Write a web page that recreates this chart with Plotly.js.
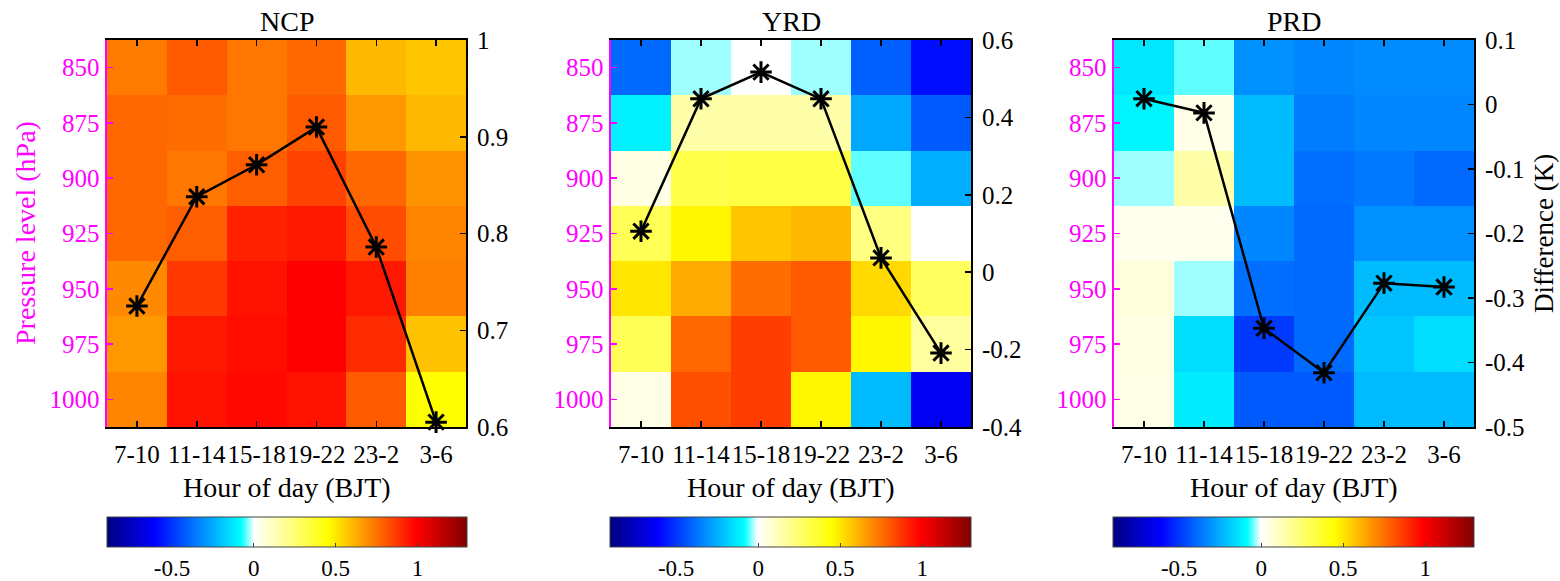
<!DOCTYPE html>
<html>
<head>
<meta charset="utf-8">
<script src="https://cdn.plot.ly/plotly-3.0.1.min.js"></script>
<style>html,body{margin:0;padding:0;background:#fff;}#chart{width:1560px;height:581px;}</style>
</head>
<body>
<div id="chart"></div>
<script>
// ---------------- data ----------------
const hours = ['7-10', '11-14', '15-18', '19-22', '23-2', '3-6'];
const levels = [850, 875, 900, 925, 950, 975, 1000];
const regions = ['NCP', 'YRD', 'PRD'];

// heatmap values (rows = levels top->bottom, columns = hours)
const ncpZ = [
  [0.73, 0.80, 0.74, 0.77, 0.60, 0.57],
  [0.77, 0.76, 0.74, 0.80, 0.67, 0.60],
  [0.77, 0.74, 0.79, 0.85, 0.77, 0.68],
  [0.77, 0.79, 0.92, 0.94, 0.83, 0.71],
  [0.70, 0.87, 0.95, 0.99, 0.94, 0.72],
  [0.67, 0.94, 0.96, 0.99, 0.90, 0.58],
  [0.71, 0.95, 0.97, 0.95, 0.80, 0.45]
];
const yrdZ = [
  [-0.39, -0.03, 0.00, -0.03, -0.41, -0.58],
  [-0.11, 0.15, 0.15, 0.15, -0.26, -0.42],
  [0.05, 0.32, 0.33, 0.33, -0.05, -0.25],
  [0.30, 0.47, 0.57, 0.60, 0.22, 0.00],
  [0.50, 0.63, 0.76, 0.80, 0.53, 0.28],
  [0.30, 0.77, 0.86, 0.80, 0.47, 0.17],
  [0.04, 0.82, 0.86, 0.47, -0.22, -0.64]
];
const prdZ = [
  [-0.13, -0.05, -0.31, -0.33, -0.32, -0.32],
  [-0.10, 0.04, -0.22, -0.35, -0.33, -0.33],
  [-0.03, 0.15, -0.22, -0.38, -0.36, -0.39],
  [0.03, 0.03, -0.33, -0.39, -0.31, -0.31],
  [0.06, -0.03, -0.38, -0.39, -0.22, -0.22],
  [0.05, -0.15, -0.49, -0.39, -0.20, -0.15],
  [0.04, -0.12, -0.42, -0.42, -0.22, -0.22]
];

// line values (difference, K)
const ncpLine = [0.725, 0.838, 0.871, 0.910, 0.786, 0.605];
const yrdLine = [0.106, 0.448, 0.517, 0.448, 0.037, -0.209];
const prdLine = [0.009, -0.013, -0.347, -0.416, -0.277, -0.283];

// right axis ticks
const ncpTicks = [0.6, 0.7, 0.8, 0.9, 1];
const ncpTickText = ['0.6', '0.7', '0.8', '0.9', '1'];
const yrdTicks = [-0.4, -0.2, 0, 0.2, 0.4, 0.6];
const yrdTickText = ['-0.4', '-0.2', '0', '0.2', '0.4', '0.6'];
const prdTicks = [-0.5, -0.4, -0.3, -0.2, -0.1, 0, 0.1];
const prdTickText = ['-0.5', '-0.4', '-0.3', '-0.2', '-0.1', '0', '0.1'];

// colorbar ticks
const cbTicks = [-0.5, 0, 0.5, 1];
const cbTickText = ['-0.5', '0', '0.5', '1'];
const zMin = -0.9, zMax = 1.3;

// ---------------- styling ----------------
const W = 1560, H = 581;
const FONT = 'Liberation Serif';
const MAG = '#ff00ff';
const TICK = 25;
const panelsPx = [[107, 466], [611, 971], [1114, 1474]];
const topPx = 40, botPx = 427;
const yDom = [(H - botPx) / H, (H - topPx) / H];

function nz(v) { return (v - zMin) / (zMax - zMin); }
const colorscale = [
  [0, 'rgb(0,0,128)'],
  [nz(-0.61), 'rgb(0,0,255)'],
  [nz(-0.08), 'rgb(0,255,255)'],
  [nz(-0.025), 'rgb(175,255,255)'],
  [nz(0), 'rgb(255,255,255)'],
  [nz(0.45), 'rgb(255,255,0)'],
  [nz(0.99), 'rgb(255,0,0)'],
  [1, 'rgb(128,0,0)']
];

const zs = [ncpZ, yrdZ, prdZ];
const lines = [ncpLine, yrdLine, prdLine];
const rTicks = [[ncpTicks, ncpTickText, [0.6, 1]], [yrdTicks, yrdTickText, [-0.4, 0.6]], [prdTicks, prdTickText, [-0.5, 0.1]]];

const data = [];
const layout = {
  width: W, height: H,
  margin: {l: 0, r: 0, t: 0, b: 0, pad: 0, autoexpand: false},
  paper_bgcolor: '#fff', plot_bgcolor: '#fff',
  font: {family: FONT, size: TICK, color: '#000'},
  showlegend: false,
  annotations: []
};

for (let i = 0; i < 3; i++) {
  const xn = i === 0 ? 'x' : 'x' + (i + 1);
  const yl = i === 0 ? 'y' : 'y' + (2 * i + 1);
  const yr = 'y' + (2 * i + 2);
  const xDom = [panelsPx[i][0] / W, panelsPx[i][1] / W];
  const xKey = i === 0 ? 'xaxis' : 'xaxis' + (i + 1);
  const ylKey = i === 0 ? 'yaxis' : 'yaxis' + (2 * i + 1);
  const yrKey = 'yaxis' + (2 * i + 2);

  data.push({
    type: 'heatmap', x: hours, y: levels, z: zs[i],
    xaxis: xn, yaxis: yl,
    zmin: zMin, zmax: zMax, colorscale: colorscale,
    hoverinfo: 'skip',
    colorbar: {
      orientation: 'h',
      x: (xDom[0] + xDom[1]) / 2, xanchor: 'center',
      y: (H - 517) / H, yanchor: 'top',
      len: (panelsPx[i][1] - panelsPx[i][0] + 1) / W, lenmode: 'fraction',
      thickness: 30, thicknessmode: 'pixels',
      xpad: 0, ypad: 0,
      outlinewidth: 1, outlinecolor: '#444',
      tickmode: 'array', tickvals: cbTicks, ticktext: cbTickText,
      ticks: 'inside', ticklen: 4, tickcolor: '#444',
      tickfont: {family: FONT, size: 23, color: '#000'}
    }
  });
  data.push({
    type: 'scatter', mode: 'lines+markers', x: hours, y: lines[i],
    xaxis: xn, yaxis: yr,
    line: {color: '#000', width: 2.5},
    marker: {symbol: 'asterisk-open', size: 18, color: '#000', line: {width: 3, color: '#000'}},
    hoverinfo: 'skip', cliponaxis: false
  });

  layout[xKey] = {
    domain: xDom, anchor: yl, type: 'category', range: [-0.5, 5.5],
    showline: true, linecolor: '#000', linewidth: 2, mirror: 'ticks',
    ticks: 'inside', ticklen: 6, tickwidth: 1.5, tickcolor: '#000',
    tickangle: 0, ticklabelstandoff: 4,
    showgrid: false, zeroline: false,
    tickfont: {family: FONT, size: TICK, color: '#000'}
  };
  layout[ylKey] = {
    domain: yDom, anchor: xn, range: [1012.5, 837.5],
    tickmode: 'array', tickvals: levels,
    showline: true, linecolor: MAG, linewidth: 2.5,
    ticks: 'inside', ticklen: 6, tickwidth: 1.5, tickcolor: MAG,
    showgrid: false, zeroline: false,
    tickfont: {family: FONT, size: TICK, color: MAG}
  };
  layout[yrKey] = {
    overlaying: yl, anchor: xn, side: 'right',
    range: rTicks[i][2], tickmode: 'array', tickvals: rTicks[i][0], ticktext: rTicks[i][1],
    showline: true, linecolor: '#000', linewidth: 2,
    ticks: 'inside', ticklen: 6, tickwidth: 1.5, tickcolor: '#000',
    ticklabelstandoff: 4,
    showgrid: false, zeroline: false,
    tickfont: {family: FONT, size: TICK, color: '#000'}
  };

  layout.annotations.push({
    text: regions[i], xref: 'paper', yref: 'paper',
    x: (xDom[0] + xDom[1]) / 2, y: (H - 21) / H, xanchor: 'center', yanchor: 'middle',
    showarrow: false, font: {family: FONT, size: 28, color: '#000'}
  });
  layout.annotations.push({
    text: 'Hour of day (BJT)', xref: 'paper', yref: 'paper',
    x: (xDom[0] + xDom[1]) / 2, y: (H - 487) / H, xanchor: 'center', yanchor: 'middle',
    showarrow: false, font: {family: FONT, size: 28, color: '#000'}
  });
}

layout.annotations.push({
  text: 'Pressure level (hPa)', xref: 'paper', yref: 'paper',
  x: 25 / W, y: (H - 233) / H, xanchor: 'center', yanchor: 'middle', textangle: -90,
  showarrow: false, font: {family: FONT, size: 28, color: MAG}
});
layout.annotations.push({
  text: 'Difference (K)', xref: 'paper', yref: 'paper',
  x: 1544 / W, y: (H - 234) / H, xanchor: 'center', yanchor: 'middle', textangle: -90,
  showarrow: false, font: {family: FONT, size: 27, color: '#000'}
});

Plotly.newPlot('chart', data, layout, {displayModeBar: false, staticPlot: true});
</script>
</body>
</html>
